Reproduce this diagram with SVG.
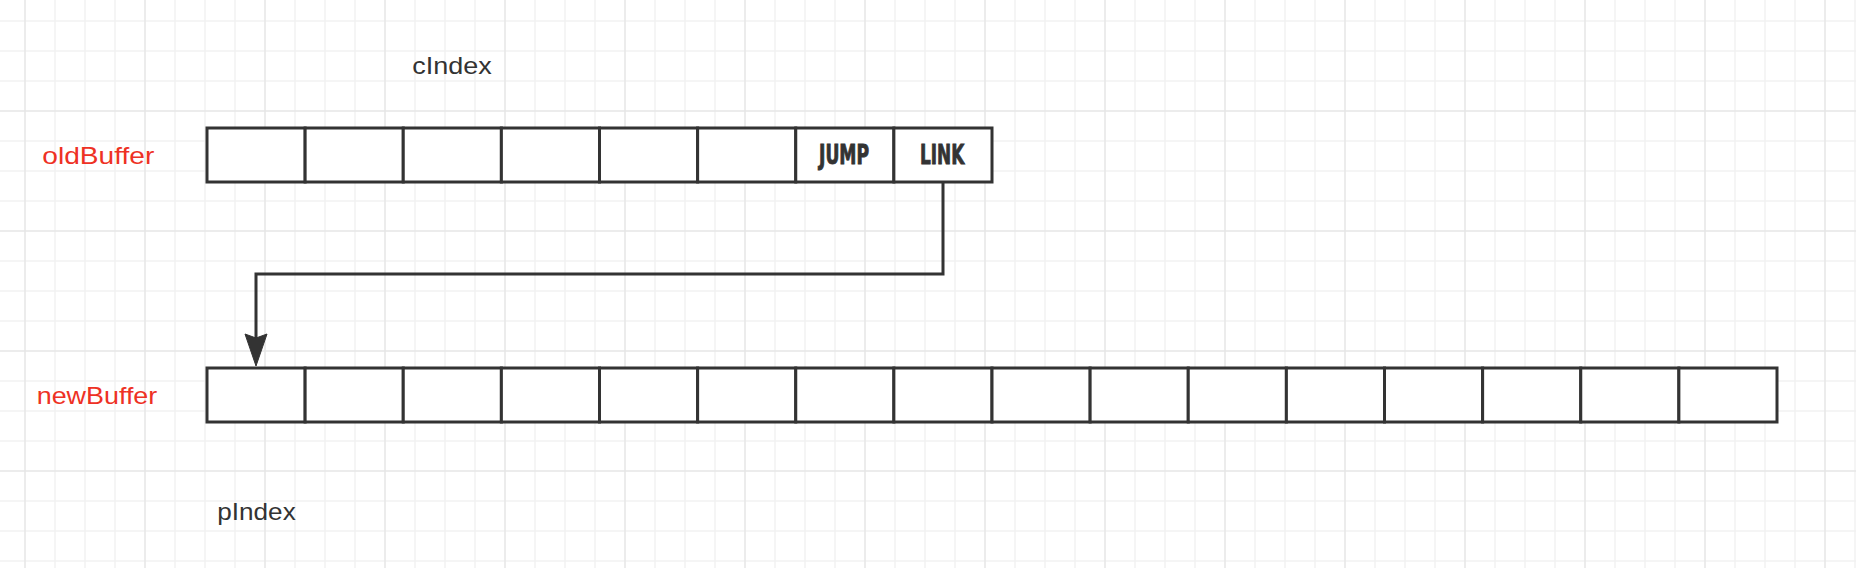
<svg xmlns="http://www.w3.org/2000/svg" width="1856" height="568" viewBox="0 0 1856 568">
<defs>
<pattern id="grid" width="120" height="120" patternUnits="userSpaceOnUse" x="10" y="96">
<path d="M45 0V120M75 0V120M105 0V120M0 45H120M0 75H120M0 105H120" stroke="#f2f2f2" stroke-width="1.5" fill="none"/>
<path d="M15 0V120M0 15H120" stroke="#e6e6e6" stroke-width="1.5" fill="none"/>
</pattern>
</defs>
<style>
.cell{fill:#fff;stroke:#333;stroke-width:3}
.lbl{font-family:"Liberation Sans",Arial,sans-serif;font-size:24px}
.red{fill:#ee3124}
.dark{fill:#333}
.tag{font-family:"DejaVu Sans Condensed","Liberation Sans Narrow","Liberation Sans",sans-serif;font-weight:bold;font-size:27px;fill:#333;stroke:#333;stroke-width:0.9}
.conn{fill:none;stroke:#333;stroke-width:3}
.head{fill:#333;stroke:#333;stroke-width:1}
</style>
<rect width="1856" height="568" fill="#fff"/>
<rect width="1856" height="568" fill="url(#grid)"/>

<g id="cIndex"><text class="lbl dark" x="412.3" y="74" textLength="79.4" lengthAdjust="spacingAndGlyphs">cIndex</text></g>
<g id="oldBufferLabel"><text class="lbl red" x="42.3" y="164" textLength="112" lengthAdjust="spacingAndGlyphs">oldBuffer</text></g>
<g id="newBufferLabel"><text class="lbl red" x="36.7" y="404" textLength="120.6" lengthAdjust="spacingAndGlyphs">newBuffer</text></g>
<g id="pIndex"><text class="lbl dark" x="217.3" y="519.5" textLength="78.4" lengthAdjust="spacingAndGlyphs">pIndex</text></g>

<g id="oldBuffer">
<rect class="cell" x="207" y="128" width="98.125" height="54"/>
<rect class="cell" x="305.125" y="128" width="98.125" height="54"/>
<rect class="cell" x="403.25" y="128" width="98.125" height="54"/>
<rect class="cell" x="501.375" y="128" width="98.125" height="54"/>
<rect class="cell" x="599.5" y="128" width="98.125" height="54"/>
<rect class="cell" x="697.625" y="128" width="98.125" height="54"/>
<rect class="cell" x="795.75" y="128" width="98.125" height="54"/>
<rect class="cell" x="893.875" y="128" width="98.125" height="54"/>
<text class="tag" x="819" y="164" textLength="50" lengthAdjust="spacingAndGlyphs">JUMP</text>
<text class="tag" x="920" y="164" textLength="44.3" lengthAdjust="spacingAndGlyphs">LINK</text>
</g>

<g id="newBuffer">
<rect class="cell" x="207" y="368" width="98.125" height="54"/>
<rect class="cell" x="305.125" y="368" width="98.125" height="54"/>
<rect class="cell" x="403.25" y="368" width="98.125" height="54"/>
<rect class="cell" x="501.375" y="368" width="98.125" height="54"/>
<rect class="cell" x="599.5" y="368" width="98.125" height="54"/>
<rect class="cell" x="697.625" y="368" width="98.125" height="54"/>
<rect class="cell" x="795.75" y="368" width="98.125" height="54"/>
<rect class="cell" x="893.875" y="368" width="98.125" height="54"/>
<rect class="cell" x="992" y="368" width="98.125" height="54"/>
<rect class="cell" x="1090.125" y="368" width="98.125" height="54"/>
<rect class="cell" x="1188.25" y="368" width="98.125" height="54"/>
<rect class="cell" x="1286.375" y="368" width="98.125" height="54"/>
<rect class="cell" x="1384.5" y="368" width="98.125" height="54"/>
<rect class="cell" x="1482.625" y="368" width="98.125" height="54"/>
<rect class="cell" x="1580.75" y="368" width="98.125" height="54"/>
<rect class="cell" x="1678.875" y="368" width="98.125" height="54"/>
</g>

<g id="connectors">
<path class="conn" d="M943 182V274H256V338"/>
<path class="head" d="M245 334L256 338L267 334L256 366Z"/>
</g>
</svg>
